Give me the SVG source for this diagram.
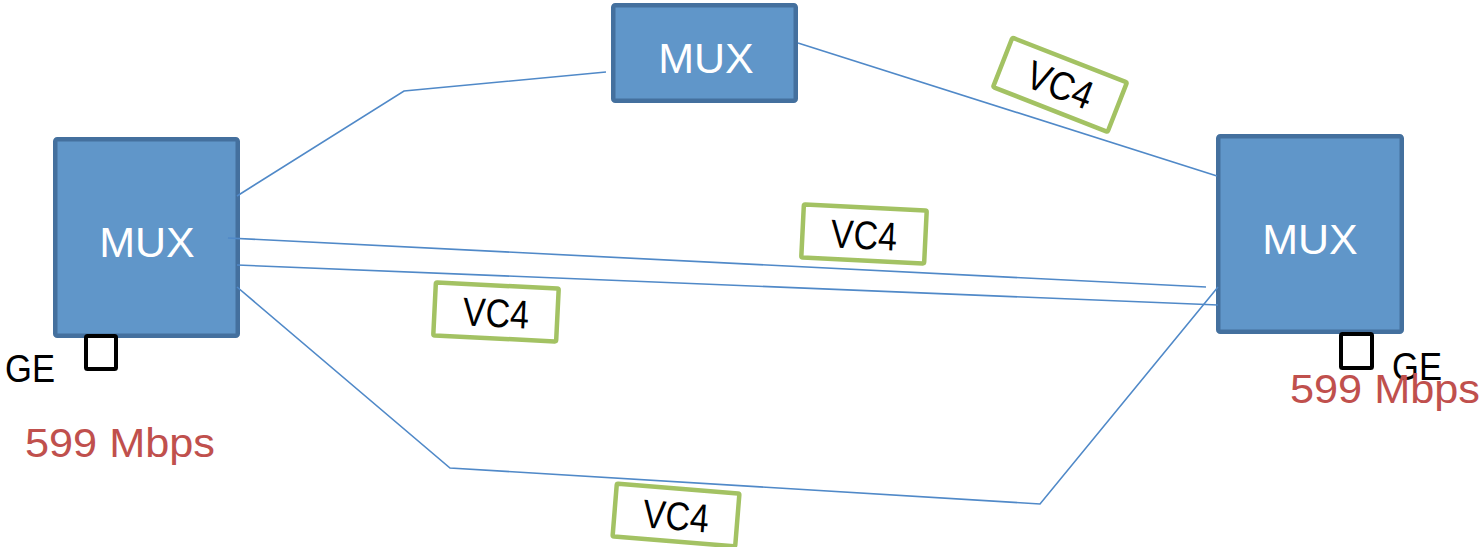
<svg xmlns="http://www.w3.org/2000/svg" width="1479" height="547" viewBox="0 0 1479 547">
<style>
.mux rect{fill:#6096c9;stroke:#44709e;stroke-width:4.5}
.mux text{font-family:"Liberation Sans",Arial,sans-serif;font-size:43px;fill:#ffffff;text-anchor:middle}
.vc rect{fill:#ffffff;stroke:#a3c263;stroke-width:4.5}
.vc text{font-family:"Liberation Sans",Arial,sans-serif;font-size:40px;fill:#000000;text-anchor:middle}
.ge rect{fill:none;stroke:#000000;stroke-width:4}
.ge text{font-family:"Liberation Sans",Arial,sans-serif;font-size:38px;fill:#000000}
.rate{font-family:"Liberation Sans",Arial,sans-serif;font-size:41px;fill:#c0504d}
#connectors polyline,#connectors line{fill:none;stroke:#5089c8;stroke-width:1.6}
</style>
<rect width="1479" height="547" fill="#ffffff"/>
<g id="mux-left" class="mux">
<rect x="55.25" y="139.25" width="182.5" height="196.5" rx="2"/>
<text x="147" y="257">MUX</text>
</g>
<g id="mux-top" class="mux">
<rect x="613.25" y="5.25" width="182.5" height="95.5" rx="2"/>
<text x="706" y="73">MUX</text>
</g>
<g id="mux-right" class="mux">
<rect x="1218.25" y="136.25" width="183.5" height="195.5" rx="2"/>
<text x="1310" y="254">MUX</text>
</g>
<g id="connectors">
<polyline points="237,196 404,91 606,72"/>
<line x1="798" y1="43" x2="1217" y2="176"/>
<line x1="228" y1="238" x2="1206" y2="287"/>
<line x1="237" y1="265" x2="1218" y2="305"/>
<polyline points="237,287 450,468 1040,504 1218,287"/>
</g>
<g id="vc4-top" class="vc" transform="translate(1060,84.75) rotate(21.4)">
<rect x="-61.5" y="-26.5" width="123" height="53" rx="1.5"/>
<text x="0" y="14" textLength="68" lengthAdjust="spacingAndGlyphs">VC4</text>
</g>
<g id="vc4-mid" class="vc" transform="translate(864,234) rotate(2.8)">
<rect x="-61.5" y="-26.5" width="123" height="53" rx="1.5"/>
<text x="0" y="15" textLength="66" lengthAdjust="spacingAndGlyphs">VC4</text>
</g>
<g id="vc4-low" class="vc" transform="translate(496,312) rotate(2.8)">
<rect x="-61.5" y="-26.5" width="123" height="53" rx="1.5"/>
<text x="0" y="15" textLength="66" lengthAdjust="spacingAndGlyphs">VC4</text>
</g>
<g id="vc4-bottom" class="vc" transform="translate(676,515) rotate(4.6)">
<rect x="-61.5" y="-26.5" width="123" height="53" rx="1.5"/>
<text x="0" y="15" textLength="66" lengthAdjust="spacingAndGlyphs">VC4</text>
</g>
<g id="ge-left" class="ge">
<rect x="86" y="336" width="30" height="33" rx="1.5"/>
<text x="5" y="382" textLength="50" lengthAdjust="spacingAndGlyphs">GE</text>
</g>
<g id="ge-right" class="ge">
<rect x="1341" y="334" width="31" height="34" rx="1.5"/>
<text x="1392" y="380" textLength="50" lengthAdjust="spacingAndGlyphs">GE</text>
</g>
<text id="rate-left" class="rate" x="25" y="457" textLength="190" lengthAdjust="spacingAndGlyphs">599 Mbps</text>
<text id="rate-right" class="rate" x="1290" y="403" textLength="190" lengthAdjust="spacingAndGlyphs">599 Mbps</text>
</svg>
